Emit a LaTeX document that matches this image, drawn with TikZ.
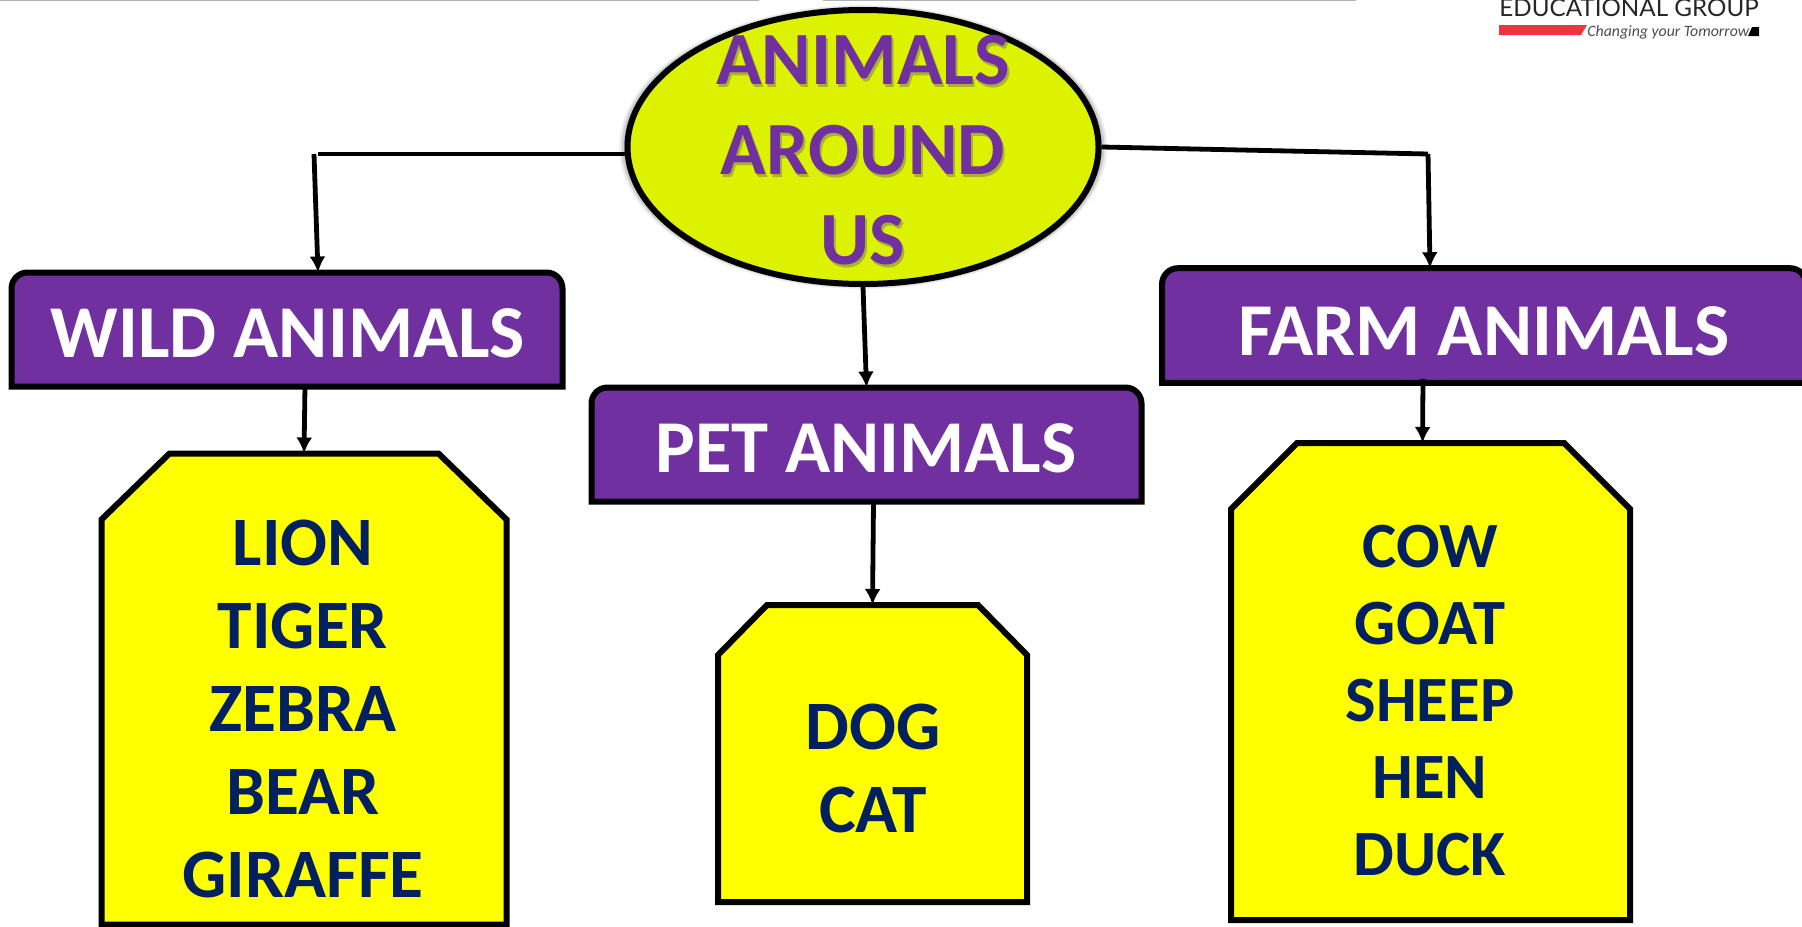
\documentclass[tikz,border=0pt]{standalone}
\usepackage{fontspec}
\setmainfont{Carlito}
\newfontfamily\logofont{Lato}
\usetikzlibrary{arrows.meta,shapes.geometric,shadows,backgrounds}
\definecolor{mainpurple}{RGB}{112,48,160}
\definecolor{limefill}{RGB}{221,242,0}
\definecolor{navytext}{RGB}{0,32,96}
\definecolor{logored}{RGB}{239,51,64}
\definecolor{listyellow}{RGB}{255,255,0}
\tikzset{
	topoval/.style={ellipse,draw=black,line width=3pt,fill=limefill,minimum width=235.5pt,minimum height=137pt,inner sep=0pt,
		general shadow={fill=black,opacity=.08,shadow scale=1.035},general shadow={fill=black,opacity=.12,shadow scale=1.025},general shadow={fill=black,opacity=.18,shadow scale=1.015}},
	toptext/.style={font=\fontsize{37.6}{45}\bfseries\selectfont,align=center,text=mainpurple,inner sep=0pt},
	topback/.style={font=\fontsize{37.6}{45}\bfseries\selectfont,align=center,text=black!60,opacity=.45,inner sep=0pt},
	catbox/.style={minimum height=57pt,inner sep=0pt,outer sep=0pt},
	catfill/.style={draw=black,line width=3pt,fill=mainpurple},
	cattext/.style={font=\fontsize{37.3}{40}\bfseries\selectfont,text=white,inner sep=0pt},
	listbox/.style={inner sep=0pt,outer sep=0pt},
	listfill/.style={draw=black,line width=3pt,fill=listyellow},
	listtext/.style={text=navytext,align=center,inner sep=0pt},
	link/.style={line width=2.4pt,-{Latex[length=8pt,width=8pt]}},
	plainlink/.style={line width=2.4pt}
}
\begin{document}
\begin{tikzpicture}[x=.5pt,y=-.5pt]
	\useasboundingbox (0,0) rectangle (1802,926);
	\draw[black!30,line width=1pt] (0,0) -- (759,0);
	\draw[black!30,line width=1pt] (823,0) -- (1356,0);

	\node[anchor=base west,inner sep=0pt,font=\logofont\fontsize{12.1}{13}\selectfont,text=black!85] (logoname) at (1499,17) {EDUCATIONAL GROUP};
	\fill[logored] (1499,25) -- (1587,25) -- (1581,35) -- (1499,35) -- cycle;
	\node[anchor=west,inner sep=0pt,font=\fontsize{7.9}{9}\itshape\selectfont,text=black!70] (logoline) at (1587,32) {Changing your Tomorrow};
	\fill[black] (1752,27) -- (1759,27) -- (1759,36) -- (1748,36) -- cycle;

	\node[topoval] (top) at (863,147) {};
	\node[topback] (topshade) at (865,153) {ANIMALS\\AROUND\\US};
	\node[toptext] (toplabel) at (863,150) {ANIMALS\\AROUND\\US};

	\node[catbox,minimum width=275.5pt] (wild) at (287,329.5) {};
	\node[catbox,minimum width=275pt] (pet) at (866.5,444.5) {};
	\node[catbox,minimum width=322pt,minimum height=57.3pt] (farm) at (1484,325.5) {};
	\node[listbox,minimum width=202.5pt,minimum height=235.5pt] (wildlist) at (304,689) {};
	\node[listbox,minimum width=154.5pt,minimum height=148.5pt] (petlist) at (872.5,753.5) {};
	\node[listbox,minimum width=199.5pt,minimum height=238.5pt] (farmlist) at (1430.5,681.5) {};
	\begin{scope}[on background layer]
		\foreach \boxname in {wild,pet,farm}
			\draw[catfill] (\boxname.south west) [rounded corners=8pt] -- (\boxname.north west) -- (\boxname.north east) [sharp corners] -- (\boxname.south east) -- cycle;
		\foreach \boxname/\cutx/\cuty in {wildlist/34/33,petlist/24.5/25,farmlist/33/33}
			\draw[listfill] (\boxname.south west) -- ([yshift=-\cuty pt]\boxname.north west) -- ([xshift=\cutx pt]\boxname.north west) -- ([xshift=-\cutx pt]\boxname.north east) -- ([yshift=-\cuty pt]\boxname.north east) -- (\boxname.south east) -- cycle;
	\end{scope}
	\node[cattext] (wildlabel) at (288,333) {WILD ANIMALS};
	\node[cattext] (petlabel) at (866,448) {PET ANIMALS};
	\node[cattext] (farmlabel) at (1484,331) {FARM ANIMALS};

	\node[listtext,font=\fontsize{34.7}{41.5}\bfseries\selectfont] (wildtext) at (303,709) {LION\\TIGER\\ZEBRA\\BEAR\\GIRAFFE};
	\node[listtext,font=\fontsize{34.7}{41.5}\bfseries\selectfont] (pettext) at (873,768) {DOG\\CAT};
	\node[listtext,font=\fontsize{32.3}{38.5}\bfseries\selectfont] (farmtext) at (1430,701) {COW\\GOAT\\SHEEP\\HEN\\DUCK};

	\coordinate (leftstart) at (318,154);
	\coordinate (leftdrop) at (314,154);
	\coordinate (rightcorner) at (1428,154);
	\draw[plainlink] ([yshift=-3.5pt]top.west) -- (leftstart);
	\draw[link] (leftdrop) -- ([xshift=15.5pt]wild.north);
	\draw[plainlink] (top.east) -- (rightcorner);
	\draw[link] (rightcorner) -- ([xshift=-27pt]farm.north);
	\draw[link] (top.south) -- (pet.north);
	\draw[link] ([xshift=9pt]wild.south) -- (wildlist.north);
	\draw[link] ([xshift=3.5pt]pet.south) -- (petlist.north);
	\draw[link] ([xshift=-30.5pt,yshift=2pt]farm.south) -- ([xshift=-4pt]farmlist.north);
\end{tikzpicture}
\end{document}
